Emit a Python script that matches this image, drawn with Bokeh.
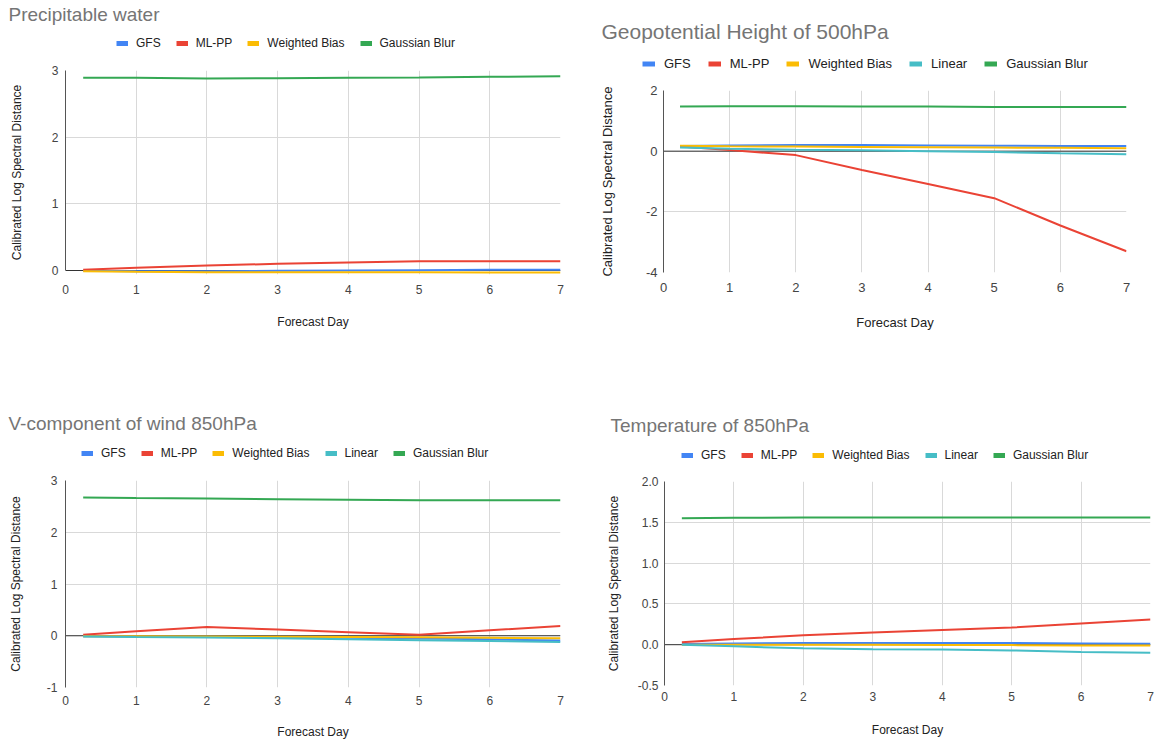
from bokeh.plotting import figure
from bokeh.layouts import column, row
from bokeh.models import (Range1d, FixedTicker, NumeralTickFormatter, Legend,
                          LegendItem, Span, Label)
from bokeh.embed import file_html
from bokeh.resources import INLINE

# ---------------- data ----------------
days = [0.25, 1, 2, 3, 4, 5, 6, 7]
x_ticks = [0, 1, 2, 3, 4, 5, 6, 7]

colors = {"GFS": "#4285F4", "ML-PP": "#EA4335", "Weighted Bias": "#FBBC04",
          "Linear": "#46BDC6", "Gaussian Blur": "#34A853"}

# Precipitable water
pw_gfs = [-0.005, -0.01, -0.01, -0.005, 0.0, 0.005, 0.01, 0.012]
pw_mlpp = [0.01, 0.04, 0.075, 0.10, 0.12, 0.14, 0.14, 0.14]
pw_wb = [-0.01, -0.02, -0.025, -0.027, -0.028, -0.028, -0.029, -0.03]
pw_gb = [2.89, 2.89, 2.88, 2.885, 2.89, 2.895, 2.905, 2.915]
pw_yticks = [0, 1, 2, 3]

# Geopotential Height of 500hPa
gh_gfs = [0.17, 0.19, 0.20, 0.20, 0.19, 0.18, 0.17, 0.17]
gh_mlpp = [0.15, 0.04, -0.13, -0.62, -1.08, -1.55, -2.45, -3.30]
gh_wb = [0.18, 0.16, 0.15, 0.14, 0.13, 0.12, 0.11, 0.10]
gh_lin = [0.12, 0.08, 0.05, 0.03, 0.0, -0.03, -0.07, -0.10]
gh_gb = [1.47, 1.48, 1.48, 1.47, 1.47, 1.46, 1.46, 1.46]
gh_yticks = [-4, -2, 0, 2]

# V-component of wind 850hPa
vw_gfs = [-0.01, -0.015, -0.02, -0.03, -0.04, -0.055, -0.07, -0.09]
vw_mlpp = [0.02, 0.085, 0.17, 0.12, 0.07, 0.02, 0.105, 0.19]
vw_wb = [-0.01, -0.012, -0.015, -0.02, -0.025, -0.03, -0.04, -0.05]
vw_lin = [-0.015, -0.025, -0.035, -0.05, -0.07, -0.085, -0.10, -0.12]
vw_gb = [2.67, 2.66, 2.65, 2.64, 2.63, 2.62, 2.62, 2.62]
vw_yticks = [-1, 0, 1, 2, 3]

# Temperature of 850hPa
t_gfs = [0.01, 0.015, 0.02, 0.02, 0.02, 0.02, 0.015, 0.012]
t_mlpp = [0.03, 0.07, 0.115, 0.15, 0.18, 0.21, 0.26, 0.31]
t_wb = [0.0, 0.0, 0.0, 0.0, -0.005, -0.005, -0.01, -0.01]
t_lin = [0.0, -0.02, -0.045, -0.055, -0.06, -0.07, -0.09, -0.10]
t_gb = [1.55, 1.555, 1.56, 1.56, 1.56, 1.56, 1.56, 1.56]
t_yticks = [-0.5, 0.0, 0.5, 1.0, 1.5, 2.0]

FONT = "Liberation Sans"
TOP_PAD = 10
NAN = float("nan")


def no_align(p):
    if "frame_align" in p.properties():
        p.frame_align = False


def make_panel(title, series, y_ticks, y_fmt, y_lo, width, hh, ph, frame,
               title_xy, legend_xy, fs, tfs, y_std, y_lbl_std, x_std, x_lbl_std,
               g_w, g_std, g_sp):
    fl, fr, fb = frame

    # ---------- header: title + legend ----------
    hdr = figure(width=width, height=hh, output_backend="svg",
                 toolbar_location=None, title=None,
                 x_axis_type=None, y_axis_type=None,
                 x_range=Range1d(0, width), y_range=Range1d(0, hh),
                 min_border=0, min_border_left=0, min_border_right=0,
                 min_border_top=0, min_border_bottom=0)
    no_align(hdr)
    hdr.outline_line_color = None
    hdr.background_fill_color = "white"
    hdr.border_fill_color = "white"
    hdr.grid.visible = False

    tx, tc = title_xy
    hdr.add_layout(Label(x=tx, y=hh - tc, text=title, text_font=FONT,
                         text_font_size=f"{tfs}px", text_color="#757575",
                         text_baseline="middle", text_align="left"))

    items = []
    for name, _ in series:
        sw = hdr.line(x=[NAN], y=[NAN], line_color=colors[name], line_width=5)
        items.append(LegendItem(label=name, renderers=[sw]))
    lx, lc = legend_xy
    HL = 16 if fs == 12 else 17
    leg = Legend(items=items, orientation="horizontal",
                 location=(lx, hh - lc - HL / 2),
                 padding=0, margin=0, spacing=g_sp, label_standoff=g_std,
                 glyph_width=g_w, glyph_height=HL, label_height=HL,
                 label_text_font=FONT, label_text_font_size=f"{fs}px",
                 label_text_color="#222222", background_fill_alpha=0,
                 border_line_alpha=0)
    hdr.add_layout(leg, "center")

    # ---------- plot ----------
    y_min, y_max = min(y_ticks), max(y_ticks)
    p = figure(width=width, height=ph, output_backend="svg",
               toolbar_location=None, title=None,
               x_range=Range1d(0, 7), y_range=Range1d(y_lo, y_max),
               min_border_left=fl, min_border_right=width - fr,
               min_border_top=TOP_PAD, min_border_bottom=ph - fb)
    no_align(p)
    p.outline_line_color = None
    p.background_fill_color = "white"
    p.border_fill_color = "white"

    for ax in (p.xaxis[0], p.yaxis[0]):
        ax.major_tick_out = 0
        ax.major_tick_in = 0
        ax.minor_tick_out = 0
        ax.minor_tick_in = 0
        ax.major_label_text_font = FONT
        ax.major_label_text_font_size = f"{fs}px"
        ax.major_label_text_color = "#444444"
        ax.axis_label_text_font = FONT
        ax.axis_label_text_font_size = f"{fs}px"
        ax.axis_label_text_font_style = "normal"
        ax.axis_label_text_color = "#222222"
    p.xaxis.ticker = FixedTicker(ticks=x_ticks)
    p.yaxis.ticker = FixedTicker(ticks=y_ticks)
    p.yaxis.formatter = NumeralTickFormatter(format=y_fmt)
    p.xaxis.formatter = NumeralTickFormatter(format="0")
    p.xaxis.axis_line_color = None
    p.yaxis.axis_line_color = "#555555"
    p.yaxis.axis_line_width = 1
    p.yaxis.bounds = (y_min, y_max)
    p.xaxis.axis_label = "Forecast Day"
    p.yaxis.axis_label = "Calibrated Log Spectral Distance"
    p.yaxis.major_label_standoff = y_std
    p.yaxis.axis_label_standoff = y_lbl_std
    p.xaxis.major_label_standoff = x_std
    p.xaxis.axis_label_standoff = x_lbl_std

    p.xgrid.grid_line_color = "#d9d9d9"
    p.ygrid.grid_line_color = "#d9d9d9"
    p.xgrid.bounds = (y_min, y_max)

    p.add_layout(Span(location=0, dimension="width", line_color="#333333",
                      line_width=1, level="underlay"))

    for name, vals in series:
        p.line(days, vals, line_color=colors[name], line_width=2)

    return column(hdr, p)


c1 = make_panel("Precipitable water",
                [("GFS", pw_gfs), ("ML-PP", pw_mlpp), ("Weighted Bias", pw_wb),
                 ("Gaussian Blur", pw_gb)],
                pw_yticks, "0", -0.06, 596, 60, 340, (65, 560, 214),
                (8, 14), (116, 43), 12, 19, 7, 25, 10, 18, 12, 8, 15)

c2 = make_panel("Geopotential Height of 500hPa",
                [("GFS", gh_gfs), ("ML-PP", gh_mlpp), ("Weighted Bias", gh_wb),
                 ("Linear", gh_lin), ("Gaussian Blur", gh_gb)],
                gh_yticks, "0", -4, 558, 80, 320, (67, 530, 192),
                (5, 31), (46, 63), 13, 21, 6, 28, 10, 20, 13, 9, 17)

c3 = make_panel("V-component of wind 850hPa",
                [("GFS", vw_gfs), ("ML-PP", vw_mlpp), ("Weighted Bias", vw_wb),
                 ("Linear", vw_lin), ("Gaussian Blur", vw_gb)],
                vw_yticks, "0", -1, 596, 70, 271, (65, 560, 217),
                (8, 23), (81, 53), 12, 19, 8, 21, 8, 17, 12, 8, 15)

c4 = make_panel("Temperature of 850hPa",
                [("GFS", t_gfs), ("ML-PP", t_mlpp), ("Weighted Bias", t_wb),
                 ("Linear", t_lin), ("Gaussian Blur", t_gb)],
                t_yticks, "0.0", -0.5, 558, 71, 270, (68, 554, 214),
                (14, 25), (85, 55), 12, 19, 6, 14, 6, 19, 12, 8, 15)

layout = column(row(c1, c2), row(c3, c4))
open("out.html", "w").write(file_html(layout, INLINE))
